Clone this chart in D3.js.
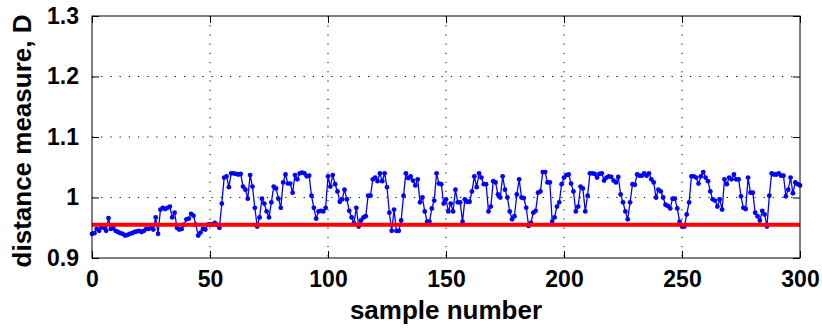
<!DOCTYPE html>
<html>
<head>
<meta charset="utf-8">
<script src="https://cdn.jsdelivr.net/npm/d3@7"></script>
<style>
  html, body { margin: 0; padding: 0; background: #fff; }
  svg { display: block; }
  .tick-label { font-family: "Liberation Sans", Arial, sans-serif; font-weight: bold; font-size: 23px; }
  .axis-title { font-family: "Liberation Sans", Arial, sans-serif; font-weight: bold; font-size: 26px; }
</style>
</head>
<body>
<svg id="chart" width="822" height="329"></svg>
<script>
// Distance measure D for each sample (index = sample number 0..300)
const distance = [
  0.940, 0.941, 0.948, 0.945, 0.951, 0.950, 0.945, 0.966, 0.948, 0.950,
  0.945, 0.943, 0.941, 0.940, 0.937, 0.938, 0.940, 0.941, 0.943, 0.944,
  0.945, 0.943, 0.945, 0.948,
  0.948, 0.950, 0.947, 0.967, 0.940, 0.980, 0.983, 0.981, 0.983, 0.985,
  0.967, 0.975, 0.950, 0.947, 0.948, 0.955, 0.964, 0.965, 0.973, 0.970,
  0.955, 0.937, 0.942, 0.948, 0.947, 0.955,
  0.956, 0.955, 0.958, 0.955, 0.950, 0.990, 1.033, 1.035, 1.017, 1.040,
  1.040, 1.039, 1.038, 1.039, 1.018, 1.013, 0.998, 1.037, 1.018, 0.983,
  0.952, 0.967, 0.998, 0.990, 0.977,
  0.967, 0.992, 1.018, 1.015, 0.998, 0.983, 1.025, 1.038, 1.023, 1.023,
  1.008, 1.037, 1.030, 1.040, 1.041, 1.040, 1.035, 1.036, 1.003, 0.983,
  0.965, 0.977, 0.978, 0.977, 0.983,
  1.035, 1.018, 1.037, 1.022, 1.010, 0.993, 0.997, 1.013, 0.997, 0.978,
  0.967, 0.958, 0.983, 0.952, 0.962, 0.967, 0.969, 1.003, 1.003, 1.030,
  1.033, 1.027, 1.040, 1.027, 1.040, 1.017,
  0.975, 0.945, 0.980, 0.945, 0.945, 0.962, 1.003, 1.040, 1.032, 1.035,
  1.028, 1.020, 1.030, 0.992, 1.000, 0.977, 0.960, 0.960, 0.982, 0.995,
  1.040, 1.023, 1.022, 0.990, 0.997, 0.977,
  0.990, 0.977, 1.013, 0.992, 0.992, 0.960, 0.997, 0.993, 0.993, 1.010,
  1.035, 1.017, 1.040, 1.033, 1.022, 1.022, 0.977, 0.985, 1.027, 1.025,
  1.005, 1.000, 1.035, 1.013, 1.000, 0.977,
  0.964, 0.969, 1.005, 1.030, 1.000, 0.999, 0.983, 0.953, 0.958, 0.975,
  0.978, 1.008, 1.010, 1.042, 1.042, 1.025, 1.025, 0.960, 0.967, 0.985,
  0.992, 1.022, 1.033, 1.037,
  1.038, 1.023, 1.010, 0.977, 0.985, 1.018, 1.015, 0.977, 1.003, 1.040,
  1.040, 1.039, 1.033, 1.039, 1.040, 1.028, 1.033, 1.035, 1.034, 1.028,
  1.025, 1.034, 1.005, 0.992, 0.977, 0.964,
  0.992, 1.022, 1.021, 1.038, 1.036, 1.036, 1.040, 1.036, 1.040, 1.030,
  1.025, 1.000, 1.013, 1.010, 1.000, 0.988, 0.986, 0.982, 0.998, 0.998,
  0.982, 0.960, 0.952, 0.952, 0.972,
  0.992, 1.035, 1.035, 1.033, 1.023, 1.035, 1.042, 1.033, 1.027, 1.010,
  0.997, 0.995, 0.985, 0.997, 0.980, 1.030, 1.022, 1.033, 1.030, 1.038,
  1.030, 1.030, 1.002, 0.983, 0.981, 1.033,
  1.008, 1.008, 0.975, 0.969, 0.962, 0.978, 0.972, 0.952, 1.003, 1.040,
  1.038, 1.038, 1.040, 1.036, 1.036, 1.002, 1.013, 1.033, 1.007, 1.025,
  1.022, 1.020
];

// Threshold level drawn as the red horizontal line
const threshold = [0.955];

// Axis ticks
const xTicks = [0, 50, 100, 150, 200, 250, 300];
const yTicks = [0.9, 1.0, 1.1, 1.2, 1.3];
const yTickLabels = ["0.9", "1", "1.1", "1.2", "1.3"];

const xTitle = "sample number";
const yTitle = "distance measure, D";

const width = 822, height = 329;
const margin = { top: 16, right: 22, bottom: 71, left: 92 };
const innerW = width - margin.left - margin.right;
const innerH = height - margin.top - margin.bottom;

const svg = d3.select("#chart");
const g = svg.append("g").attr("transform", `translate(${margin.left},${margin.top})`);

const x = d3.scaleLinear().domain([0, 300]).range([0, innerW]);
const y = d3.scaleLinear().domain([0.9, 1.3]).range([innerH, 0]);

// Dotted grid lines (interior only)
g.append("g").selectAll("line.gx")
  .data(xTicks.filter(t => t > 0 && t < 300))
  .join("line")
  .attr("x1", d => x(d)).attr("x2", d => x(d))
  .attr("y1", 0).attr("y2", innerH)
  .attr("stroke", "#000").attr("stroke-width", 1)
  .attr("stroke-dasharray", "1.2,8");

g.append("g").selectAll("line.gy")
  .data(yTicks.filter(t => t > 0.9 && t < 1.3))
  .join("line")
  .attr("x1", 0).attr("x2", innerW)
  .attr("y1", d => y(d)).attr("y2", d => y(d))
  .attr("stroke", "#000").attr("stroke-width", 1)
  .attr("stroke-dasharray", "1.2,8");

// Axes with inward ticks on all four sides
const tickLen = 7;
const xAxisBottom = d3.axisBottom(x).tickValues(xTicks).tickSizeInner(-tickLen).tickSizeOuter(0).tickPadding(13);
const xAxisTop = d3.axisTop(x).tickValues(xTicks).tickSizeInner(-tickLen).tickSizeOuter(0).tickFormat("");
const yAxisLeft = d3.axisLeft(y).tickValues(yTicks).tickSizeInner(-tickLen).tickSizeOuter(0).tickPadding(13)
  .tickFormat((d, i) => yTickLabels[i]);
const yAxisRight = d3.axisRight(y).tickValues(yTicks).tickSizeInner(-tickLen).tickSizeOuter(0).tickFormat("");

function styleAxis(sel) {
  sel.select(".domain").remove();
  sel.selectAll(".tick line").attr("stroke", "#000").attr("stroke-width", 1);
  sel.selectAll(".tick text").attr("class", "tick-label").attr("fill", "#000");
}

g.append("g").attr("transform", `translate(0,${innerH})`).call(xAxisBottom).call(styleAxis)
  .selectAll(".tick text").attr("dy", "0.71em");
g.append("g").call(xAxisTop).call(styleAxis);
g.append("g").call(yAxisLeft).call(styleAxis);
g.append("g").attr("transform", `translate(${innerW},0)`).call(yAxisRight).call(styleAxis);

// Clip marks to the plotting box
svg.append("defs").append("clipPath").attr("id", "plot-clip")
  .append("rect").attr("x", -4).attr("y", 0).attr("width", innerW + 8).attr("height", innerH);

const plot = g.append("g").attr("clip-path", "url(#plot-clip)");

// Series line with dot markers
const line = d3.line().x((d, i) => x(i)).y(d => y(d));
plot.append("path")
  .datum(distance)
  .attr("fill", "none")
  .attr("stroke", "#0000ff")
  .attr("stroke-width", 1.3)
  .attr("d", line);

plot.append("g").selectAll("circle")
  .data(distance)
  .join("circle")
  .attr("cx", (d, i) => x(i))
  .attr("cy", d => y(d))
  .attr("r", 2.4)
  .attr("fill", "#0000ff");

// Threshold line
plot.append("g").selectAll("line.thr")
  .data(threshold)
  .join("line")
  .attr("x1", x(0)).attr("x2", x(300))
  .attr("y1", d => y(d)).attr("y2", d => y(d))
  .attr("stroke", "#ff0000").attr("stroke-width", 4);

// Plot box
g.append("rect")
  .attr("x", 0).attr("y", 0).attr("width", innerW).attr("height", innerH)
  .attr("fill", "none").attr("stroke", "#000").attr("stroke-width", 1);

// Axis titles
svg.append("text")
  .attr("class", "axis-title")
  .attr("x", margin.left + innerW / 2)
  .attr("y", 319)
  .attr("text-anchor", "middle")
  .text(xTitle);

svg.append("text")
  .attr("class", "axis-title")
  .attr("transform", `translate(31,${margin.top + innerH / 2 + 4}) rotate(-90)`)
  .attr("text-anchor", "middle")
  .text(yTitle);
</script>
</body>
</html>
